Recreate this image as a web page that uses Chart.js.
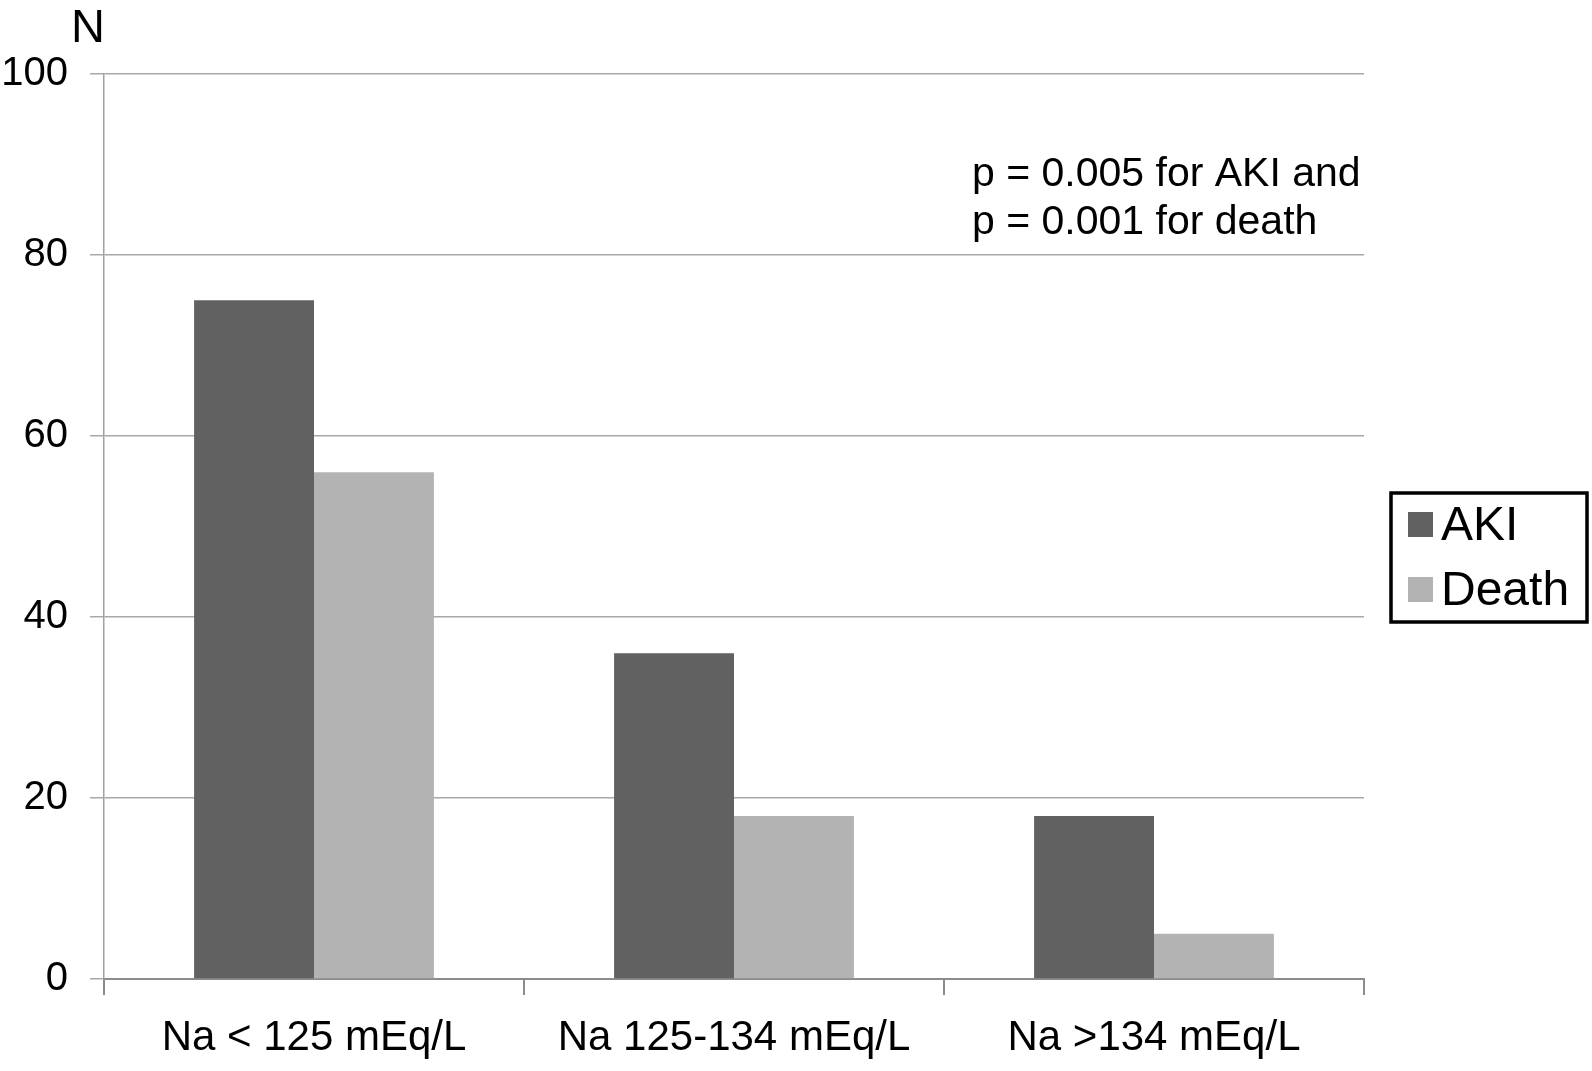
<!DOCTYPE html>
<html>
<head>
<meta charset="utf-8">
<script src="https://cdn.jsdelivr.net/npm/chart.js@4.4.0/dist/chart.umd.min.js"></script>
<style>
  html, body { margin: 0; padding: 0; background: #fff; }
  #wrap { width: 1592px; height: 1071px; position: relative; }
</style>
</head>
<body>
<div id="wrap"><canvas id="naChart"></canvas></div>
<script>
const categories = ['Na < 125 mEq/L', 'Na 125-134 mEq/L', 'Na >134 mEq/L'];
const akiValues = [75, 36, 18];
const deathValues = [56, 18, 5];
const yTicks = [0, 20, 40, 60, 80, 100];
const seriesNames = ['AKI', 'Death'];
const seriesColors = ['#616161', '#b3b3b3'];
const noteLines = ['p = 0.005 for AKI and', 'p = 0.001 for death'];

const FONT = '"Liberation Sans", Arial, Helvetica, sans-serif';

// title "N", p-value note and boxed legend
const extras = {
  id: 'extras',
  afterDraw(chart) {
    const ctx = chart.ctx;
    ctx.save();
    ctx.fillStyle = '#000';
    ctx.textBaseline = 'alphabetic';

    ctx.font = '47px ' + FONT;
    ctx.textAlign = 'center';
    ctx.fillText('N', 88, 42);

    ctx.font = '41px ' + FONT;
    ctx.textAlign = 'left';
    noteLines.forEach((line, i) => {
      ctx.fillText(line, 972, 186 + i * 48);
    });

    // legend box
    const bx = 1391, by = 493, bw = 196, bh = 129;
    ctx.lineWidth = 3.5;
    ctx.strokeStyle = '#000';
    ctx.strokeRect(bx, by, bw, bh);
    ctx.font = '48px ' + FONT;
    seriesNames.forEach((name, i) => {
      const y = 512 + i * 65;
      ctx.fillStyle = seriesColors[i];
      ctx.fillRect(1408, y, 25, 25);
      ctx.fillStyle = '#000';
      ctx.fillText(name, 1441, y + 28);
    });
    ctx.restore();
  }
};

new Chart(document.getElementById('naChart'), {
  type: 'bar',
  data: {
    labels: categories,
    datasets: [
      { label: seriesNames[0], data: akiValues, backgroundColor: seriesColors[0], borderWidth: 0 },
      { label: seriesNames[1], data: deathValues, backgroundColor: seriesColors[1], borderWidth: 0 }
    ]
  },
  options: {
    responsive: true,
    maintainAspectRatio: false,
    animation: false,
    devicePixelRatio: 1,
    categoryPercentage: 0.571,
    barPercentage: 1.0,
    layout: { padding: { top: 74, right: 228, left: 0, bottom: 0 } },
    plugins: {
      legend: { display: false },
      tooltip: { enabled: false }
    },
    scales: {
      x: {
        afterFit(scale) { scale.height = 92; },
        grid: {
          offset: true,
          drawOnChartArea: false,
          drawTicks: true,
          tickLength: 16,
          color: '#8c8c8c',
          lineWidth: 2
        },
        border: { display: true, color: '#8c8c8c', width: 2 },
        ticks: {
          color: '#000',
          font: { family: FONT, size: 42 },
          padding: 18,
          maxRotation: 0
        }
      },
      y: {
        min: 0,
        max: 100,
        afterFit(scale) { scale.width = 104; },
        afterBuildTicks(scale) { scale.ticks = yTicks.map(v => ({ value: v })); },
        grid: {
          color: '#a8a8a8',
          lineWidth: 1.5,
          drawTicks: true,
          tickLength: 14
        },
        border: { display: true, color: '#a0a0a0', width: 1.5 },
        ticks: {
          color: '#000',
          font: { family: FONT, size: 40 },
          padding: 22
        }
      }
    }
  },
  plugins: [extras]
});
</script>
</body>
</html>
